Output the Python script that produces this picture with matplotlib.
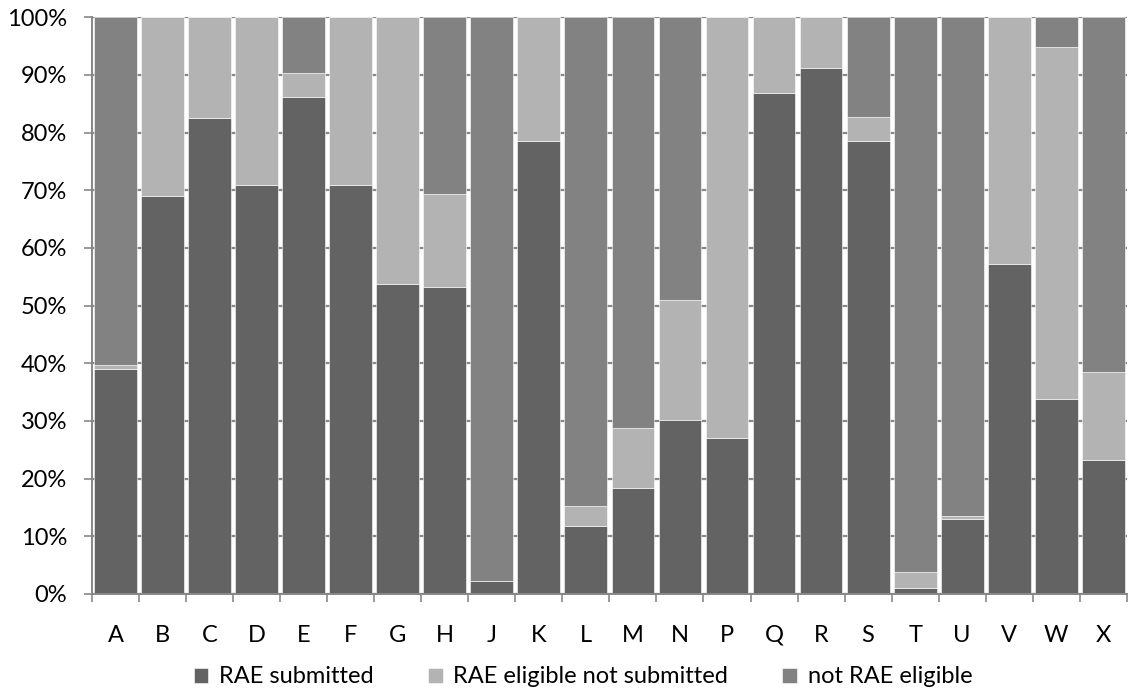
import numpy as np
import matplotlib.pyplot as plt
from matplotlib.ticker import PercentFormatter, MultipleLocator

# ================= DATA =================
categories = ["A", "B", "C", "D", "E", "F", "G", "H", "J", "K", "L",
              "M", "N", "P", "Q", "R", "S", "T", "U", "V", "W", "X"]
submitted = [39.0, 69.0, 82.5, 71.0, 86.2, 71.0, 53.7, 53.3, 2.3, 78.5, 11.8,
             18.3, 30.2, 27.0, 86.8, 91.2, 78.5, 1.0, 13.0, 57.3, 33.8, 23.3]
eligible_not_sub = [0.7, 31.0, 17.5, 29.0, 4.2, 29.0, 46.3, 16.0, 0.0, 21.5, 3.5,
                    10.5, 20.7, 73.0, 13.2, 8.8, 4.2, 2.8, 0.6, 42.7, 61.0, 15.2]
not_eligible = [100 - a - b for a, b in zip(submitted, eligible_not_sub)]

series_names = ["RAE submitted", "RAE eligible not submitted", "not RAE eligible"]
colors = ["#636363", "#b3b3b3", "#828282"]

# ================= FIGURA =================
plt.rcParams['font.family'] = ['Lato', 'DejaVu Sans']
fig = plt.figure(figsize=(11.44, 6.91), dpi=100)
ax = fig.add_axes([0.0804, 0.1404, 0.9046, 0.8346])

x = np.arange(len(categories))
w = 0.91
bottom = np.zeros(len(categories))
for vals, name, col in zip([submitted, eligible_not_sub, not_eligible], series_names, colors):
    ax.bar(x, vals, w, bottom=bottom, color=col, label=name, zorder=3,
           edgecolor="white", linewidth=0.4)
    bottom += np.array(vals)

grid_col = "#878787"
ax.set_ylim(0, 100)
ax.set_xlim(-0.5, len(categories) - 0.5)
ax.yaxis.set_major_locator(MultipleLocator(10))
ax.yaxis.set_major_formatter(PercentFormatter(decimals=0))
ax.grid(axis="y", color=grid_col, linewidth=1.6, zorder=1)

ax.set_xticks(x)
ax.set_xticklabels(categories)
ax.set_xticks(np.arange(len(categories) + 1) - 0.5, minor=True)
ax.tick_params(axis="x", which="major", length=0, pad=22, labelsize=17)
ax.tick_params(axis="x", which="minor", length=6, color=grid_col, width=1.2)
ax.tick_params(axis="y", length=6, color=grid_col, width=1.2, labelsize=17, pad=12)

for s in ["top", "right"]:
    ax.spines[s].set_visible(False)
for s in ["left", "bottom"]:
    ax.spines[s].set_color(grid_col)
    ax.spines[s].set_linewidth(1.4)
    ax.spines[s].set_zorder(4)

handles, labels = ax.get_legend_handles_labels()
fig.legend(handles, labels, loc="center", bbox_to_anchor=(0.5096, 0.0203), ncol=3,
           frameon=False, fontsize=17, handlelength=0.62, handleheight=0.62,
           handletextpad=0.45, columnspacing=2.3, borderpad=0)

fig.savefig("out.png", dpi=100)
